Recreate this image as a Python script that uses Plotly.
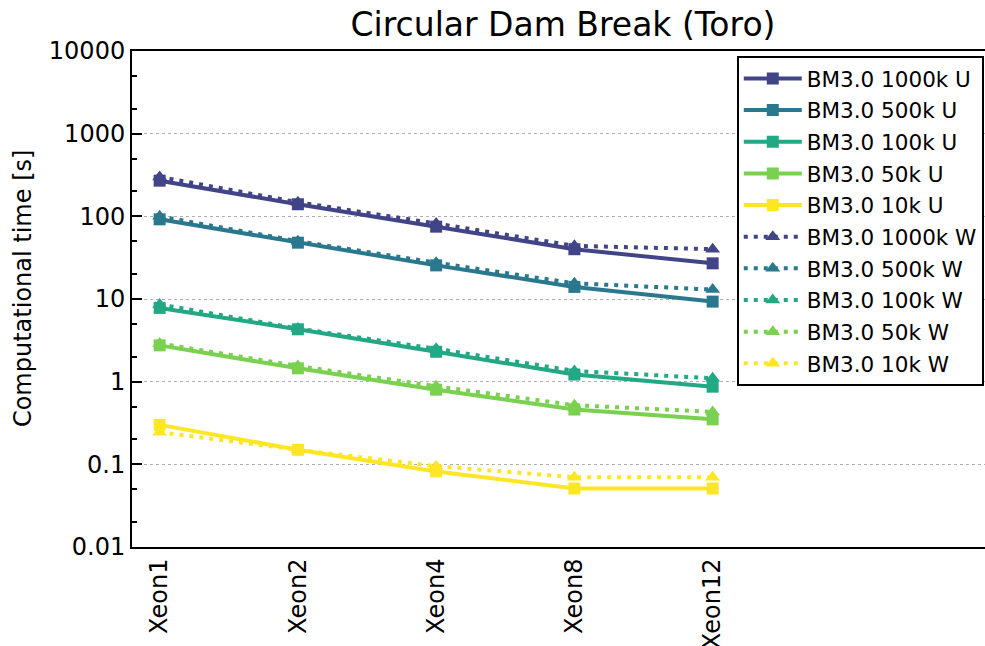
import plotly.graph_objects as go

# 横轴类别
cats = ["Xeon1", "Xeon2", "Xeon4", "Xeon8", "Xeon12"]
sizes = ["1000k", "500k", "100k", "50k", "10k"]
colors = ["#414487", "#2a788e", "#22a884", "#7ad151", "#fde725"]

# U 系列 (实线, 方形)
u_1000k = [270, 140, 75, 40, 27]
u_500k = [92, 48, 25.5, 14, 9.3]
u_100k = [7.8, 4.3, 2.3, 1.22, 0.87]
u_50k = [2.75, 1.45, 0.8, 0.46, 0.35]
u_10k = [0.3, 0.15, 0.082, 0.051, 0.051]

# W 系列 (点线, 三角形)
w_1000k = [300, 148, 82, 44, 40]
w_500k = [100, 50, 27.5, 15.5, 13]
w_100k = [8.6, 4.4, 2.5, 1.35, 1.1]
w_50k = [2.9, 1.55, 0.88, 0.52, 0.43]
w_10k = [0.245, 0.15, 0.095, 0.07, 0.07]

# y轴刻度
y_tickvals = [0.01, 0.1, 1, 10, 100, 1000, 10000]
y_ticktext = ["0.01", "0.1", "1", "10", "100", "1000", "10000"]

u_series = [u_1000k, u_500k, u_100k, u_50k, u_10k]
w_series = [w_1000k, w_500k, w_100k, w_50k, w_10k]

W, H = 985, 646

fig = go.Figure()

for size, color, vals in zip(sizes, colors, u_series):
    fig.add_trace(go.Scatter(
        x=cats, y=vals, mode='lines+markers',
        name=f'BM3.0 {size} U', legendgroup=f'{size}U',
        line=dict(color=color, width=4),
        marker=dict(symbol='square', size=12, color=color)
    ))

for size, color, vals in zip(sizes, colors, w_series):
    fig.add_trace(go.Scatter(
        x=cats, y=vals, mode='lines+markers',
        name=f'BM3.0 {size} W', legendgroup=f'{size}W',
        line=dict(color=color, width=4, dash='4px,6px'),
        marker=dict(symbol='triangle-up', size=13, color=color)
    ))

fig.update_layout(
    width=W, height=H,
    margin=dict(l=132, r=0, t=51, b=99),
    paper_bgcolor='white', plot_bgcolor='white',
    font=dict(family='DejaVu Sans', size=24, color='black'),
    title=dict(text='Circular Dam Break (Toro)', font=dict(size=33),
               x=563 / W, xref='container', xanchor='center',
               y=1 - 24 / H, yref='container', yanchor='middle'),
    showlegend=True,
    legend=dict(x=0.709, y=0.99, xanchor='left', yanchor='top',
                bordercolor='black', borderwidth=2, bgcolor='white',
                font=dict(size=21.5), itemwidth=58, tracegroupgap=0.7)
)

# y轴标题用注释放置
fig.add_annotation(
    text='Computational time [s]', textangle=-90, showarrow=False,
    xref='paper', yref='paper', x=0, y=0.52, xanchor='center', yanchor='middle',
    xshift=-109, font=dict(size=24)
)

fig.update_xaxes(
    type='category', range=[-0.2, 5.97], automargin=False,
    showline=True, mirror=True, linecolor='black', linewidth=2,
    ticks='', tickangle=-90, showgrid=False, zeroline=False
)

fig.update_yaxes(
    type='log', range=[-2, 4], automargin=False,
    tickvals=y_tickvals, ticktext=y_ticktext,
    showline=True, linecolor='black', linewidth=2,
    ticks='inside', ticklen=10, tickwidth=2, tickcolor='black',
    minor=dict(ticks='inside', ticklen=5, tickwidth=1.5, tickcolor='black', showgrid=False),
    showgrid=True, gridcolor='#b0b0b0', griddash='dot', gridwidth=1,
    zeroline=False
)

# 去掉页面默认边距和滚动条, 使图与窗口对齐; 隐藏工具栏
fig.write_html("out.html", config={'displayModeBar': False},
               post_script="document.body.style.margin='0';document.body.style.overflow='hidden';")
